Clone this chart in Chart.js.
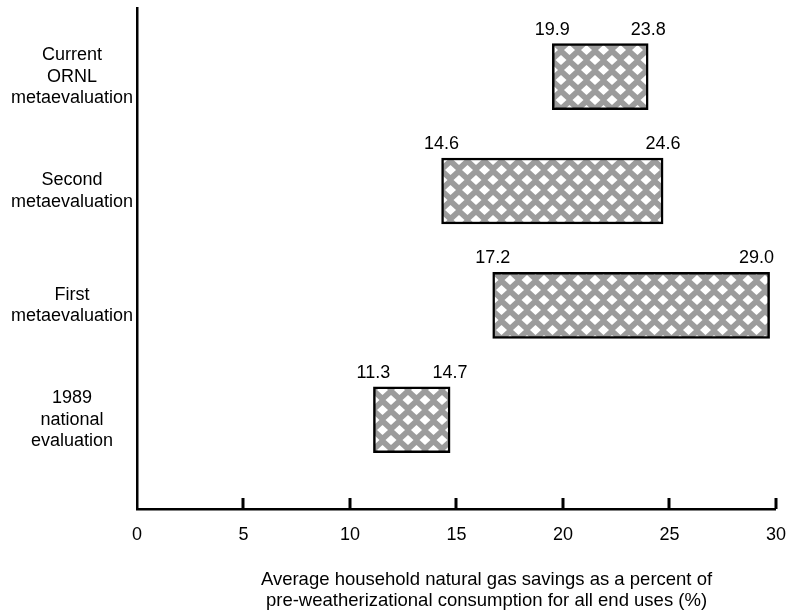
<!DOCTYPE html>
<html lang="en">
<head>
<meta charset="UTF-8">
<title>Natural gas savings ranges</title>
<script src="https://cdn.jsdelivr.net/npm/chart.js@4.4.1/dist/chart.umd.min.js"></script>
<style>
  html, body { margin: 0; padding: 0; background: #fff; }
  #wrap { width: 793px; height: 616px; }
</style>
</head>
<body>
<div id="wrap"><canvas id="savingsChart"></canvas></div>
<script>
// categories, top to bottom
const categories = [
    ['Current', 'ORNL', 'metaevaluation'],
    ['Second', 'metaevaluation'],
    ['First', 'metaevaluation'],
    ['1989', 'national', 'evaluation']
];
// bar extents as drawn in the figure (%)
const rangeStart = [19.5, 14.3, 16.7, 11.1];
const rangeEnd = [24.0, 24.7, 29.7, 14.7];
// numbers printed over the bar ends
const lowLabels = ['19.9', '14.6', '17.2', '11.3'];
const highLabels = ['23.8', '24.6', '29.0', '14.7'];
const xTicks = [0, 5, 10, 15, 20, 25, 30];
const xTitle = [
    'Average household natural gas savings as a percent of',
    'pre-weatherizational consumption for all end uses (%)'
];

const FONT = '"Liberation Sans", Arial, sans-serif';
const canvas = document.getElementById('savingsChart');

// grey lattice with white diamonds
function crossHatch() {
    const tile = document.createElement('canvas');
    tile.width = 17;
    tile.height = 20;
    const c = tile.getContext('2d');
    c.fillStyle = '#9c9c9c';
    c.fillRect(0, 0, 17, 20);
    c.fillStyle = '#fff';
    const diamond = (cx, cy) => {
        c.beginPath();
        c.moveTo(cx - 5.5, cy);
        c.lineTo(cx, cy - 5);
        c.lineTo(cx + 5.5, cy);
        c.lineTo(cx, cy + 5);
        c.closePath();
        c.fill();
    };
    [[8.5, 10], [0, 0], [17, 0], [0, 20], [17, 20]].forEach(p => diamond(p[0], p[1]));
    return canvas.getContext('2d').createPattern(tile, 'repeat');
}

// tick marks point inward, into the plot
const insideTicks = {
    id: 'insideTicks',
    afterDraw(chart) {
        const {ctx, chartArea, scales: {x}} = chart;
        ctx.save();
        ctx.strokeStyle = '#000';
        ctx.lineWidth = 3;
        x.ticks.forEach(t => {
            if (t.value === 0) return;
            const px = Math.round(x.getPixelForValue(t.value));
            ctx.beginPath();
            ctx.moveTo(px, chartArea.bottom);
            ctx.lineTo(px, chartArea.bottom - 11);
            ctx.stroke();
        });
        // axis title, two lines
        ctx.fillStyle = '#000';
        ctx.font = '18.5px ' + FONT;
        ctx.textAlign = 'center';
        ctx.textBaseline = 'middle';
        const cx = (chartArea.left + chartArea.right) / 2 + 30;
        xTitle.forEach((line, i) => ctx.fillText(line, cx, chartArea.bottom + 71 + i * 21));
        ctx.restore();
    }
};

// end values written above each bar
const endLabels = {
    id: 'endLabels',
    afterDatasetsDraw(chart) {
        const {ctx, chartArea} = chart;
        const meta = chart.getDatasetMeta(0);
        ctx.save();
        ctx.fillStyle = '#000';
        ctx.font = '18px ' + FONT;
        ctx.textAlign = 'center';
        ctx.textBaseline = 'alphabetic';
        meta.data.forEach((bar, i) => {
            const p = bar.getProps(['x', 'base', 'y', 'height'], true);
            const top = p.y - p.height / 2 - 9;
            const left = Math.min(p.x, p.base);
            let right = Math.max(p.x, p.base);
            const w = ctx.measureText(highLabels[i]).width;
            if (right + w / 2 > chartArea.right - 2) right = chartArea.right - 2 - w / 2;
            ctx.fillText(lowLabels[i], left, top);
            ctx.fillText(highLabels[i], right, top);
        });
        ctx.restore();
    }
};

new Chart(canvas, {
    type: 'bar',
    data: {
        datasets: [{
            data: categories.map((c, i) => ({y: i, x: [rangeStart[i], rangeEnd[i]]})),
            backgroundColor: crossHatch(),
            borderColor: '#000',
            borderWidth: 2.5,
            borderSkipped: false,
            barThickness: 66
        }]
    },
    options: {
        indexAxis: 'y',
        responsive: true,
        maintainAspectRatio: false,
        animation: false,
        devicePixelRatio: 1,
        layout: {padding: {top: 8, right: 16, left: 0, bottom: 0}},
        plugins: {legend: {display: false}, tooltip: {enabled: false}},
        scales: {
            x: {
                type: 'linear',
                position: 'bottom',
                min: 0,
                max: 30,
                afterBuildTicks: s => { s.ticks = xTicks.map(v => ({value: v})); },
                afterFit: s => { s.height = 107; },
                grid: {display: false},
                border: {display: true, color: '#000', width: 2.5},
                ticks: {color: '#000', font: {family: FONT, size: 18}, padding: 7, autoSkip: false, maxRotation: 0}
            },
            y: {
                type: 'linear',
                reverse: true,
                offset: false,
                min: -0.6,
                max: 3.78,
                afterBuildTicks: s => { s.ticks = categories.map((c, i) => ({value: i})); },
                afterFit: s => { s.width = 137; s.paddingTop = 0; s.paddingBottom = 0; },
                grid: {display: false, offset: false, drawTicks: false},
                border: {display: true, color: '#000', width: 2.5},
                ticks: {
                    color: '#000',
                    font: {family: FONT, size: 18, lineHeight: 1.2},
                    crossAlign: 'center',
                    padding: 4,
                    autoSkip: false,
                    callback: (v, i) => categories[i]
                }
            }
        }
    },
    plugins: [insideTicks, endLabels]
});
</script>
</body>
</html>
